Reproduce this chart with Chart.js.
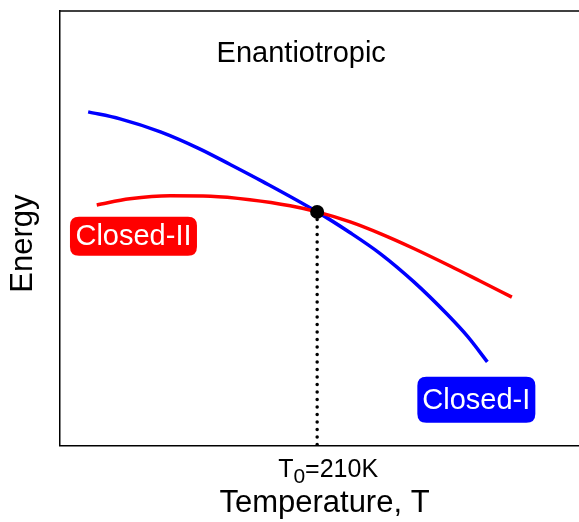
<!DOCTYPE html>
<html>
<head>
<meta charset="utf-8">
<script src="https://cdn.jsdelivr.net/npm/chart.js@4/dist/chart.umd.min.js"></script>
<style>
  html, body { margin: 0; padding: 0; background: #fff; overflow: hidden; }
  canvas { display: block; }
</style>
</head>
<body>
<canvas id="energyChart" width="596" height="522"></canvas>
<script>
// Closed-I branch (blue), temperature in K vs. energy (arb. units)
const closedIT = [23, 49, 82, 114, 139, 166, 210, 237, 262, 289, 316, 333, 349];
const closedIE = [76.8, 75.2, 72.2, 68.3, 64.7, 60.7, 53.8, 49.0, 44.1, 37.7, 30.3, 25.1, 19.3];

// Closed-II branch (red)
const closedIIT = [30, 57, 90, 123, 155, 188, 210, 237, 262, 288, 319, 343, 369];
const closedIIE = [55.4, 56.8, 57.5, 57.4, 56.6, 55.2, 53.8, 51.5, 48.75, 45.5, 41.3, 37.9, 34.2];

// transition point
const t0 = 210;
const e0 = 53.8;

// x tick: value and its label pieces (T, subscript, rest)
const xTicks = [210];
const xTickLabels = [['T', '0', '=210K']];

// text placed in data coordinates
const titleText = 'Enantiotropic';
const titlePos = { x: 197, y: 88.3 };
const yTitle = 'Energy';
const yTitlePos = 46.5;
const tags = [
  { text: 'Closed-II', x: 60, y: 48.2, color: '#ff0000', w: 127, h: 39 },
  { text: 'Closed-I', x: 340, y: 10.6, color: '#0000ff', w: 118, h: 46 }
];

const FONT = '"Liberation Sans", Arial, sans-serif';

const toPoints = (xs, ys) => xs.map((x, i) => ({ x: x, y: ys[i] }));

function roundBox(ctx, x, y, w, h, r) {
  ctx.beginPath();
  ctx.moveTo(x + r, y);
  ctx.lineTo(x + w - r, y);
  ctx.quadraticCurveTo(x + w, y, x + w, y + r);
  ctx.lineTo(x + w, y + h - r);
  ctx.quadraticCurveTo(x + w, y + h, x + w - r, y + h);
  ctx.lineTo(x + r, y + h);
  ctx.quadraticCurveTo(x, y + h, x, y + h - r);
  ctx.lineTo(x, y + r);
  ctx.quadraticCurveTo(x, y, x + r, y);
  ctx.closePath();
}

const decorations = {
  id: 'decorations',
  afterDatasetsDraw(chart) {
    const ctx = chart.ctx;
    const xs = chart.scales.x, ys = chart.scales.y;
    const area = chart.chartArea;
    ctx.save();

    // top frame line
    ctx.strokeStyle = '#000';
    ctx.lineWidth = 1.5;
    ctx.beginPath();
    ctx.moveTo(area.left, area.top);
    ctx.lineTo(area.right, area.top);
    ctx.stroke();

    // title inside the plot
    ctx.fillStyle = '#000';
    ctx.font = '29px ' + FONT;
    ctx.textAlign = 'center';
    ctx.textBaseline = 'alphabetic';
    ctx.fillText(titleText, xs.getPixelForValue(titlePos.x), ys.getPixelForValue(titlePos.y));

    // y axis title, rotated
    ctx.save();
    ctx.translate(area.left - 37, ys.getPixelForValue(yTitlePos));
    ctx.rotate(-Math.PI / 2);
    ctx.font = '31px ' + FONT;
    ctx.textAlign = 'center';
    ctx.textBaseline = 'middle';
    ctx.fillText(yTitle, 0, 0);
    ctx.restore();

    // coloured branch tags
    tags.forEach(t => {
      const cx = xs.getPixelForValue(t.x);
      const cy = ys.getPixelForValue(t.y);
      ctx.fillStyle = t.color;
      roundBox(ctx, cx - t.w / 2, cy - t.h / 2, t.w, t.h, 9);
      ctx.fill();
      ctx.fillStyle = '#fff';
      ctx.font = '29px ' + FONT;
      ctx.textAlign = 'center';
      ctx.textBaseline = 'middle';
      ctx.fillText(t.text, cx, cy + 1);
    });

    // x tick label with subscript
    xTicks.forEach((v, i) => {
      const [main, sub, rest] = xTickLabels[i];
      const px = xs.getPixelForValue(v);
      const base = area.bottom + 31;
      ctx.fillStyle = '#000';
      ctx.textAlign = 'left';
      ctx.textBaseline = 'alphabetic';
      let x = px - 39;
      ctx.font = '25px ' + FONT;
      ctx.fillText(main, x, base);
      x += ctx.measureText(main).width;
      ctx.font = '21px ' + FONT;
      ctx.fillText(sub, x, base + 6);
      x += ctx.measureText(sub).width;
      ctx.font = '25px ' + FONT;
      ctx.fillText(rest, x, base);
    });

    ctx.restore();
  }
};

new Chart(document.getElementById('energyChart'), {
  type: 'line',
  data: {
    datasets: [
      {
        label: 'T0',
        data: [{ x: t0, y: e0 }],
        showLine: false,
        pointRadius: 7,
        pointBackgroundColor: '#000',
        pointBorderWidth: 0,
        order: 0
      },
      {
        label: 'Closed-I',
        data: toPoints(closedIT, closedIE),
        borderColor: '#0000ff',
        borderWidth: 3.5,
        pointRadius: 0,
        cubicInterpolationMode: 'monotone',
        order: 2
      },
      {
        label: 'Closed-II',
        data: toPoints(closedIIT, closedIIE),
        borderColor: '#ff0000',
        borderWidth: 3.5,
        pointRadius: 0,
        cubicInterpolationMode: 'monotone',
        order: 1
      },
      {
        label: 'T0 drop',
        data: [{ x: t0, y: e0 }, { x: t0, y: 0 }],
        borderColor: '#000',
        borderWidth: 3.5,
        borderDash: [0, 7.5],
        borderCapStyle: 'round',
        pointRadius: 0,
        order: 3
      }
    ]
  },
  options: {
    responsive: false,
    devicePixelRatio: 1,
    animation: false,
    layout: { padding: { top: 11, right: 0, left: 60, bottom: 0 } },
    plugins: {
      legend: { display: false },
      tooltip: { enabled: false }
    },
    scales: {
      x: {
        type: 'linear',
        min: 0,
        max: 432,
        grid: { display: false, drawTicks: false },
        border: { display: true, color: '#000', width: 1.5 },
        ticks: { display: false },
        title: {
          display: true,
          text: 'Temperature, T',
          color: '#000',
          font: { family: FONT, size: 31 },
          padding: { top: 39, bottom: 0 }
        }
      },
      y: {
        min: 0,
        max: 100,
        grid: { display: false, drawTicks: false },
        border: { display: true, color: '#000', width: 1.5 },
        ticks: { display: false },
        title: { display: false }
      }
    }
  },
  plugins: [decorations]
});
</script>
</body>
</html>
